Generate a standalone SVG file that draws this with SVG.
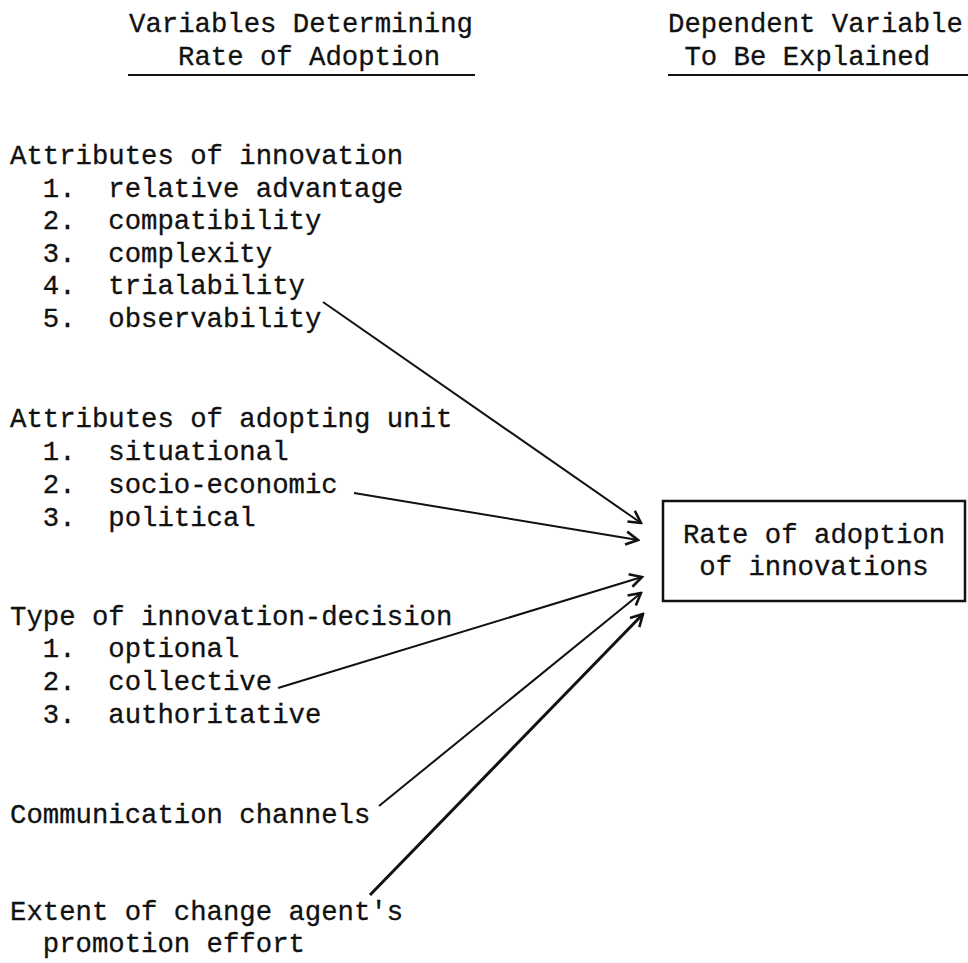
<svg xmlns="http://www.w3.org/2000/svg" width="968" height="963" viewBox="0 0 968 963">
<style>
text{font-family:"Liberation Mono","Courier New",monospace;font-size:27.3px;fill:#111;stroke:#111;stroke-width:0.3px;white-space:pre}
.ul{stroke:#111;stroke-width:2;fill:none}
.conn line{stroke:#111;stroke-width:2;fill:none}
.box{fill:#fff;stroke:#111;stroke-width:2.5}
</style>
<defs>
<marker id="ah" viewBox="-14 -8 16 16" refX="0" refY="0" markerWidth="16" markerHeight="16" markerUnits="userSpaceOnUse" orient="auto">
<path d="M-12,-6.5 L0,0 L-12,6.5" fill="none" stroke="#111" stroke-width="2.6" stroke-linejoin="miter"/>
</marker>
</defs>
<rect width="968" height="963" fill="#fff"/>
<g id="header-left">
<text x="129" y="32">Variables Determining</text>
<text x="178" y="65">Rate of Adoption</text>
<line class="ul" x1="128" y1="75" x2="475" y2="75"/>
</g>
<g id="header-right">
<text x="668" y="32">Dependent Variable</text>
<text x="684.4" y="65">To Be Explained</text>
<line class="ul" x1="668" y1="75" x2="968" y2="75"/>
</g>
<g id="attributes-innovation">
<text x="10" y="164">Attributes of innovation</text>
<text x="42.8" y="197" xml:space="preserve">1.  relative advantage</text>
<text x="42.8" y="229" xml:space="preserve">2.  compatibility</text>
<text x="42.8" y="262" xml:space="preserve">3.  complexity</text>
<text x="42.8" y="294" xml:space="preserve">4.  trialability</text>
<text x="42.8" y="327" xml:space="preserve">5.  observability</text>
</g>
<g id="attributes-adopting-unit">
<text x="10" y="427">Attributes of adopting unit</text>
<text x="42.8" y="460" xml:space="preserve">1.  situational</text>
<text x="42.8" y="493" xml:space="preserve">2.  socio-economic</text>
<text x="42.8" y="526" xml:space="preserve">3.  political</text>
</g>
<g id="type-innovation-decision">
<text x="10" y="625">Type of innovation-decision</text>
<text x="42.8" y="657" xml:space="preserve">1.  optional</text>
<text x="42.8" y="690" xml:space="preserve">2.  collective</text>
<text x="42.8" y="723" xml:space="preserve">3.  authoritative</text>
</g>
<g id="communication-channels">
<text x="10" y="823">Communication channels</text>
</g>
<g id="change-agent-effort">
<text x="10" y="920">Extent of change agent's</text>
<text x="42.8" y="952">promotion effort</text>
</g>
<g id="rate-of-adoption">
<rect class="box" x="663" y="501" width="302" height="100"/>
<text x="814" y="543" text-anchor="middle">Rate of adoption</text>
<text x="814" y="575" text-anchor="middle">of innovations</text>
</g>
<g class="conn" id="connectors">
<line x1="323" y1="302" x2="641" y2="523" marker-end="url(#ah)"/>
<line x1="354" y1="493" x2="638" y2="540" marker-end="url(#ah)"/>
<line x1="278" y1="688" x2="642" y2="577" marker-end="url(#ah)"/>
<line x1="379" y1="806" x2="641" y2="593" marker-end="url(#ah)"/>
<line x1="370" y1="895" x2="643" y2="614" marker-end="url(#ah)" style="stroke-width:3"/>
</g>
</svg>
